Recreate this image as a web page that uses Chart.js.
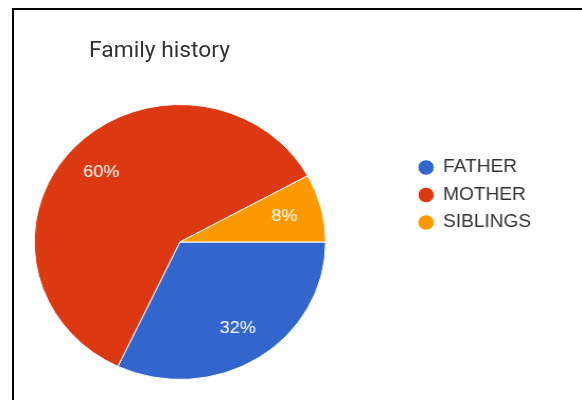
<!DOCTYPE html>
<html>
<head>
<meta charset="utf-8">
<script src="https://cdn.jsdelivr.net/npm/chart.js@4"></script>
<style>
  html, body { margin: 0; padding: 0; background: #fff; }
  body { width: 582px; height: 400px; overflow: hidden; position: relative; }
  /* black frame along the top and left edges */
  .frame {
    position: absolute; left: 12px; top: 8px; width: 620px; height: 440px;
    border-left: 2px solid #000; border-top: 2px solid #000;
  }
  /* chart is laid out at 549px and widened to fill 582px */
  .stage {
    position: absolute; left: 0; top: 0; width: 549px; height: 400px;
    transform: scaleX(1.06); transform-origin: 0 0;
  }
  .stage h1 {
    position: absolute; left: 84px; top: 39px; margin: 0;
    font: 400 21.5px/1 Roboto, sans-serif; color: #333; white-space: nowrap;
  }
  /* canvas starts a bit off the left edge so the pie can sit left of centre */
  .chart-box { position: absolute; left: -46px; top: 0; width: 595px; height: 400px; }
</style>
</head>
<body>
<div class="frame"></div>
<div class="stage">
  <div class="chart-box"><canvas id="familyHistory"></canvas></div>
  <h1>Family history</h1>
</div>
<script>
const members = ["FATHER", "MOTHER", "SIBLINGS"];
const shares = [32, 60, 8];
const sliceColors = ["#3366cc", "#dc3912", "#ff9900"];

// white percentage text inside each slice
const sliceLabels = {
  id: "sliceLabels",
  afterDatasetsDraw(chart) {
    const ctx = chart.ctx;
    const meta = chart.getDatasetMeta(0);
    const total = shares.reduce((a, b) => a + b, 0);
    ctx.save();
    ctx.font = "17px Arial, 'Liberation Sans', sans-serif";
    ctx.fillStyle = "#fff";
    ctx.textAlign = "center";
    ctx.textBaseline = "middle";
    meta.data.forEach((arc, i) => {
      const { x, y, startAngle, endAngle, outerRadius } = arc.getProps(
        ["x", "y", "startAngle", "endAngle", "outerRadius"], true);
      const mid = (startAngle + endAngle) / 2;
      const r = outerRadius * 0.74;
      const pct = Math.round((shares[i] / total) * 100);
      ctx.fillText(pct + "%", x + Math.cos(mid) * r, y + Math.sin(mid) * r);
    });
    ctx.restore();
  },
};

new Chart("familyHistory", {
  type: "pie",
  data: {
    labels: members,
    datasets: [
      {
        data: shares,
        backgroundColor: sliceColors,
        borderColor: "#fff",
        borderWidth: 1,
        radius: 137.5,
        hoverOffset: 0,
        clip: false,
      },
    ],
  },
  options: {
    responsive: true,
    maintainAspectRatio: false,
    animation: false,
    rotation: 90,
    layout: { padding: { left: 0, right: 38, top: 149, bottom: 65 } },
    plugins: {
      legend: {
        position: "right",
        align: "start",
        labels: {
          usePointStyle: true,
          pointStyle: "circle",
          boxWidth: 14,
          boxHeight: 11,
          padding: 9.5,
          color: "#333",
          font: { family: "Arial", size: 18 },
        },
      },
      title: { display: false },
      tooltip: { enabled: false },
    },
  },
  plugins: [sliceLabels],
});
</script>
</body>
</html>
